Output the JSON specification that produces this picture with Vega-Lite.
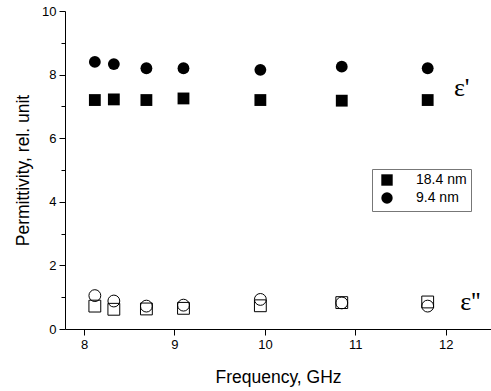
{
  "$schema": "https://vega.github.io/schema/vega-lite/v6.json",
  "width": 426,
  "height": 318,
  "autosize": "none",
  "padding": {"left": 65, "top": 11, "right": 0, "bottom": 62},
  "background": "white",
  "config": {
    "view": {"stroke": null},
    "font": "Liberation Sans",
    "axis": {"grid": false, "domainColor": "black", "tickColor": "black", "labelColor": "black", "titleColor": "black", "labelFont": "Liberation Sans", "titleFont": "Liberation Sans", "labelFontSize": 13, "titleFontSize": 17.5, "titleFontWeight": "normal", "labelFontWeight": "normal"}
  },
  "datasets": {
    "pts": [
      {"f": 8.12, "v": 7.2, "sample": "18.4 nm", "part": "real"},
      {"f": 8.33, "v": 7.22, "sample": "18.4 nm", "part": "real"},
      {"f": 8.69, "v": 7.2, "sample": "18.4 nm", "part": "real"},
      {"f": 9.1, "v": 7.25, "sample": "18.4 nm", "part": "real"},
      {"f": 9.95, "v": 7.2, "sample": "18.4 nm", "part": "real"},
      {"f": 10.85, "v": 7.18, "sample": "18.4 nm", "part": "real"},
      {"f": 11.8, "v": 7.2, "sample": "18.4 nm", "part": "real"},
      {"f": 8.12, "v": 8.4, "sample": "9.4 nm", "part": "real"},
      {"f": 8.33, "v": 8.33, "sample": "9.4 nm", "part": "real"},
      {"f": 8.69, "v": 8.2, "sample": "9.4 nm", "part": "real"},
      {"f": 9.1, "v": 8.2, "sample": "9.4 nm", "part": "real"},
      {"f": 9.95, "v": 8.15, "sample": "9.4 nm", "part": "real"},
      {"f": 10.85, "v": 8.25, "sample": "9.4 nm", "part": "real"},
      {"f": 11.8, "v": 8.2, "sample": "9.4 nm", "part": "real"},
      {"f": 8.12, "v": 0.72, "sample": "18.4 nm", "part": "imag"},
      {"f": 8.33, "v": 0.62, "sample": "18.4 nm", "part": "imag"},
      {"f": 8.69, "v": 0.63, "sample": "18.4 nm", "part": "imag"},
      {"f": 9.1, "v": 0.65, "sample": "18.4 nm", "part": "imag"},
      {"f": 9.95, "v": 0.73, "sample": "18.4 nm", "part": "imag"},
      {"f": 10.85, "v": 0.83, "sample": "18.4 nm", "part": "imag"},
      {"f": 11.8, "v": 0.85, "sample": "18.4 nm", "part": "imag"},
      {"f": 8.12, "v": 1.05, "sample": "9.4 nm", "part": "imag"},
      {"f": 8.33, "v": 0.88, "sample": "9.4 nm", "part": "imag"},
      {"f": 8.69, "v": 0.72, "sample": "9.4 nm", "part": "imag"},
      {"f": 9.1, "v": 0.75, "sample": "9.4 nm", "part": "imag"},
      {"f": 9.95, "v": 0.93, "sample": "9.4 nm", "part": "imag"},
      {"f": 10.85, "v": 0.82, "sample": "9.4 nm", "part": "imag"},
      {"f": 11.8, "v": 0.72, "sample": "9.4 nm", "part": "imag"}
    ],
    "labels": [
      {"f": 12.09, "v": 7.58, "t": "ε'"},
      {"f": 12.16, "v": 0.85, "t": "ε''"}
    ]
  },
  "encoding": {
    "x": {"field": "f", "type": "quantitative", "scale": {"domain": [7.79, 12.5], "nice": false, "zero": false},
      "axis": {"title": "Frequency, GHz", "values": [8, 8.5, 9, 9.5, 10, 10.5, 11, 11.5, 12, 12.5], "format": "d", "labelExpr": "datum.value % 1 === 0 ? datum.label : ''", "tickSize": {"condition": {"test": "datum.value % 1 === 0", "value": 6}, "value": 4}, "labelPadding": 3, "titlePadding": 17}},
    "y": {"field": "v", "type": "quantitative", "scale": {"domain": [0, 10], "nice": false},
      "axis": {"title": "Permittivity, rel. unit", "values": [0, 1, 2, 3, 4, 5, 6, 7, 8, 9, 10], "format": "d", "labelExpr": "datum.value % 2 === 0 ? datum.label : ''", "tickSize": {"condition": {"test": "datum.value % 2 === 0", "value": 6}, "value": 4}, "labelPadding": 3, "titlePadding": 9}}
  },
  "layer": [
    {
      "data": {"name": "pts"},
      "transform": [{"filter": "datum.part === 'imag'"}],
      "mark": {"type": "point", "filled": false, "stroke": "black", "strokeWidth": 1, "opacity": 1, "size": 140},
      "encoding": {
        "shape": {"field": "sample", "type": "nominal", "scale": {"domain": ["18.4 nm", "9.4 nm"], "range": ["square", "circle"]}, "legend": null}
      }
    },
    {
      "data": {"name": "pts"},
      "transform": [{"filter": "datum.part === 'real'"}],
      "mark": {"type": "point", "filled": true, "color": "black", "opacity": 1, "size": 140},
      "encoding": {
        "shape": {"field": "sample", "type": "nominal", "scale": {"domain": ["18.4 nm", "9.4 nm"], "range": ["square", "circle"]},
          "legend": {"title": null, "orient": "none", "legendX": 307, "legendY": 158, "strokeColor": "#777777", "padding": 4, "labelFontSize": 14, "labelFont": "Liberation Sans", "labelColor": "black", "symbolFillColor": "black", "symbolStrokeColor": "black", "symbolSize": 130, "rowPadding": 0, "labelOffset": 22, "cornerRadius": 0, "symbolOffset": 4}}
      }
    },
    {
      "data": {"name": "labels"},
      "mark": {"type": "text", "font": "Liberation Serif", "fontSize": 26, "align": "left", "baseline": "middle", "color": "black"},
      "encoding": {"text": {"field": "t"}}
    }
  ],
  "resolve": {"scale": {"shape": "independent"}, "legend": {"shape": "independent"}}
}
